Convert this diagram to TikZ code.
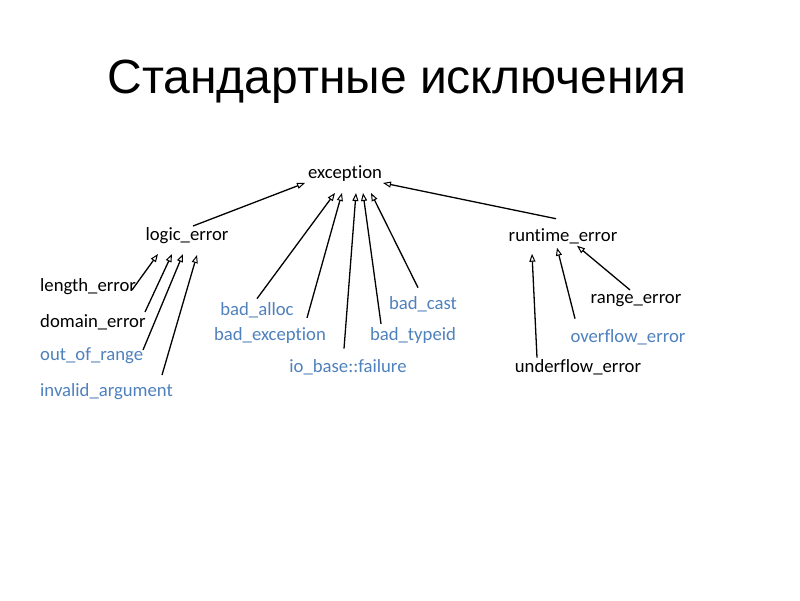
\documentclass[tikz,border=0pt]{standalone}
\usepackage{fontspec}
\setmainfont[Ligatures={NoCommon,NoRequired},RawFeature={-liga;-clig;-dlig}]{Carlito}
\newfontfamily\titlefont{Liberation Sans}
\usetikzlibrary{arrows.meta,calc}
\definecolor{exblue}{RGB}{79,129,189}
\newcommand{\lt}[1]{\raisebox{-3.5pt}{#1}}
\begin{document}
\begin{tikzpicture}[x=1pt,y=-1pt,
  lbl/.style={inner sep=0pt,anchor=mid,font=\fontsize{18.7}{20}\selectfont},
  lblw/.style={lbl,anchor=mid west},
  blu/.style={text=exblue},
  arr/.style={line width=1.3pt,-{Triangle[open,length=8pt,width=6pt,line width=1pt]}}]
\useasboundingbox[fill=white] (0,0) rectangle (800,600);
\node[anchor=base,inner sep=0pt,font=\titlefont\fontsize{48}{52}\selectfont] (title) at (397,93) {Стандартные исключения};

\node[lbl] (exc) at (345,173) {\lt{exception}};
\node[lbl] (logic) at (187,235) {\lt{logic\_error}};
\node[lbl] (rt) at (563,236) {\lt{runtime\_error}};

\node[lblw] (len) at (40,286) {\lt{length\_error}};
\node[lblw] (dom) at (40,322) {\lt{domain\_error}};
\node[lblw,blu] (oor) at (40,355) {\lt{out\_of\_range}};
\node[lblw,blu] (inv) at (40,391) {\lt{invalid\_argument}};

\node[lbl,blu] (balloc) at (257,310) {\lt{bad\_alloc}};
\node[lbl,blu] (bexc) at (270,335) {\lt{bad\_exception}};
\node[lbl,blu] (io) at (348,367) {\lt{io\_base::failure}};
\node[lbl,blu] (bcast) at (423,304) {\lt{bad\_cast}};
\node[lbl,blu] (btype) at (413,335) {\lt{bad\_typeid}};

\node[lbl] (range) at (636,298) {\lt{range\_error}};
\node[lbl,blu] (over) at (628,337) {\lt{overflow\_error}};
\node[lbl] (under) at (578,367) {\lt{underflow\_error}};

\draw[arr] ($(logic)+(6,-10)$) -- ($(exc)+(-40,9)$);
\draw[arr] ($(rt)+(-7,-18)$) -- ($(exc)+(38,9)$);
\draw[arr] ($(balloc)+(0,-12)$) -- ($(exc)+(-10,19)$);
\draw[arr] ($(bexc)+(37,-18)$) -- ($(exc)+(-3,19)$);
\draw[arr] ($(io)+(-4,-19)$) -- ($(exc)+(11,19)$);
\draw[arr] ($(btype)+(-32,-12)$) -- ($(exc)+(18,19)$);
\draw[arr] ($(bcast)+(-5,-17)$) -- ($(exc)+(26,19)$);

\draw[arr] ($(len.mid west)+(92,4)$) -- ($(logic)+(-29,18)$);
\draw[arr] ($(dom.mid west)+(105,-10)$) -- ($(logic)+(-15,18)$);
\draw[arr] ($(oor.mid west)+(103,-5)$) -- ($(logic)+(-4,18)$);
\draw[arr] ($(inv.mid west)+(122,-16)$) -- ($(logic)+(10,19)$);

\draw[arr] ($(under)+(-41,-10)$) -- ($(rt)+(-31,17)$);
\draw[arr] ($(over)+(-53,-19)$) -- ($(rt)+(-6,11)$);
\draw[arr] ($(range)+(-6,-11)$) -- ($(rt)+(14,9)$);
\end{tikzpicture}
\end{document}
